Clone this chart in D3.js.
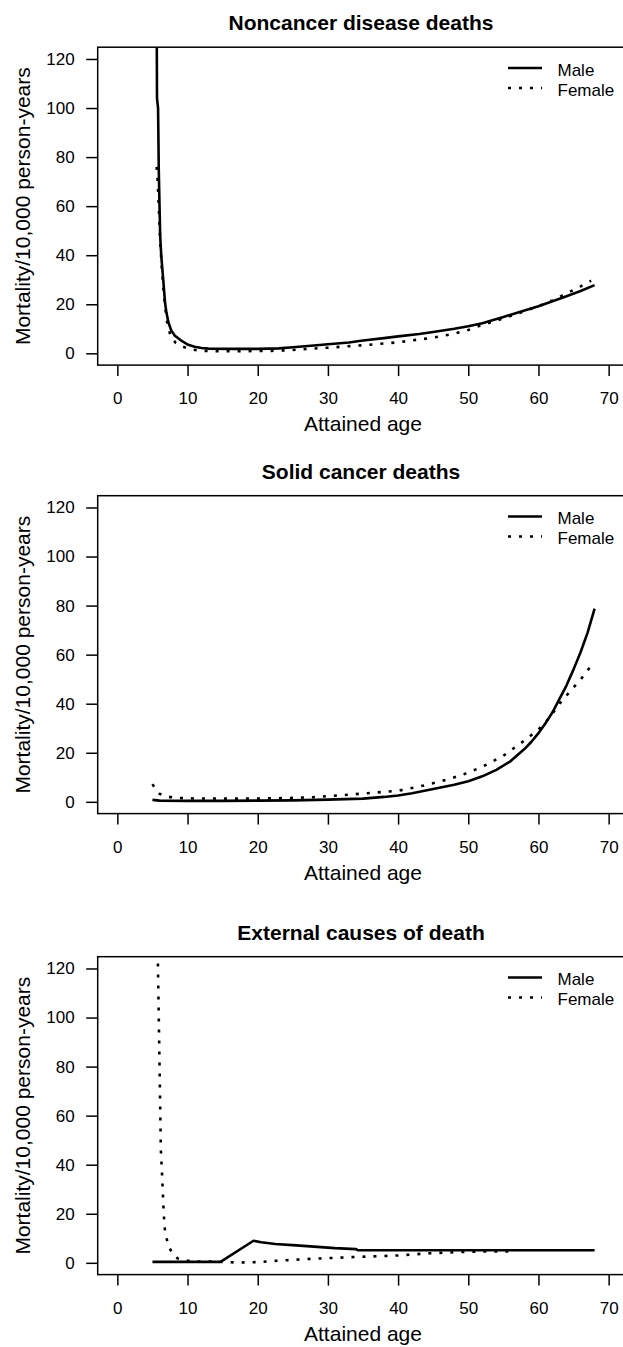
<!DOCTYPE html>
<html>
<head>
<meta charset="utf-8">
<script src="https://cdn.jsdelivr.net/npm/d3@7"></script>
<style>
body { margin: 0; background: #fff; }
svg text { font-family: "Liberation Sans", Arial, sans-serif; fill: #000; }
</style>
</head>
<body>
<svg width="623" height="1347"></svg>
<script>
var panelTitles = ['Noncancer disease deaths', 'Solid cancer deaths', 'External causes of death'];
var seriesNames = ['Male', 'Female'];
var xTicks = [0, 10, 20, 30, 40, 50, 60, 70];
var yTicks = [0, 20, 40, 60, 80, 100, 120];
var xLabel = 'Attained age';
var yLabel = 'Mortality/10,000 person-years';

// [attained age, mortality per 10,000 person-years]
var noncancerMale = [[5.6, 140], [5.65, 104], [5.8, 100], [5.9, 75], [6.1, 48], [6.25, 40], [6.45, 33],
    [6.65, 26], [6.8, 20.5], [7.0, 16.5], [7.3, 12.4], [7.7, 9.2], [8.2, 7.2], [9, 5.4], [10, 3.6],
    [11, 2.7], [12, 2.2], [13, 1.9], [16, 1.8], [20, 1.8], [23, 2.0], [25, 2.5], [28, 3.2], [30, 3.7],
    [33, 4.4], [35, 5.2], [38, 6.2], [40, 6.9], [43, 7.9], [45, 8.7], [48, 10.0], [50, 11.0],
    [52, 12.3], [55, 14.8], [58, 17.5], [60, 19.2], [62, 21.2], [64, 23.3], [66, 25.4], [68, 27.8]];
var noncancerFemale = [[5.6, 76], [5.75, 70], [5.9, 60], [6.1, 46], [6.35, 34], [6.6, 25], [6.85, 18],
    [7.1, 12.5], [7.6, 6.8], [8.3, 4.3], [9.3, 2.7], [10.5, 1.6], [12, 1.0], [14, 0.9], [18, 0.9],
    [22, 1.0], [24.6, 1.3], [27, 1.8], [30, 2.3], [35, 3.3], [40, 4.5], [45, 6.4], [48, 8.0],
    [50, 9.5], [52, 11.6], [55, 14.2], [58, 17.2], [60, 19.2], [62, 21.6], [64, 24.4], [66, 27.3],
    [67.5, 29.6]];

var solidMale = [[5, 0.8], [6, 0.5], [10, 0.4], [15, 0.4], [20, 0.5], [25, 0.6], [30, 0.9], [35, 1.3],
    [38, 2.0], [40, 2.6], [42, 3.5], [45, 5.2], [48, 7.0], [50, 8.4], [52, 10.4], [54, 13.0],
    [56, 16.5], [58, 21.5], [59, 24.5], [60, 28.0], [61, 32.0], [62, 36.5], [63, 42.0], [64, 47.5],
    [65, 54.0], [66, 61.0], [67, 69.0], [68, 78.8]];
var solidFemale = [[5, 7.2], [5.5, 5.0], [6, 3.3], [7, 2.2], [8, 1.7], [10, 1.4], [15, 1.3], [20, 1.3],
    [25, 1.6], [28, 1.9], [32, 2.7], [36, 3.6], [40, 4.5], [43, 6.2], [46, 8.3], [49, 10.8],
    [52, 14.3], [55, 18.8], [58, 25], [60, 29.5], [61.5, 34], [63, 40], [64.5, 45], [66, 49.8],
    [67.5, 55.5]];

var externalMale = [[5, 0.4], [14.7, 0.4], [19.4, 9.0], [20.5, 8.4], [22.5, 7.7], [25.5, 7.1],
    [28.5, 6.5], [31, 6.0], [34, 5.6], [34.3, 5.1], [50, 5.1], [68, 5.1]];
var externalFemale = [[5.78, 122], [6.2, 46], [6.36, 36.8], [6.6, 20.5], [6.8, 12.3], [7.3, 6.8],
    [7.9, 3.5], [8.6, 1.8], [9.3, 1.2], [10.5, 0.6], [15, 0.4], [17, 0.1], [20, 0.3], [23, 0.9],
    [27.5, 1.6], [31.5, 2.1], [36, 2.6], [40, 3.0], [44.5, 3.9], [48, 4.3], [51.5, 4.6], [56.5, 4.6]];

var panelSeries = [
    [noncancerMale, noncancerFemale],
    [solidMale, solidFemale],
    [externalMale, externalFemale]
];

// layout
var panelTop = [0, 448.5, 909.5];
var box = {left: 97.7, right: 628.3, top: 47.2, bottom: 365.1};
var dashes = [null, '3 8'];

var x = d3.scaleLinear().domain([-2.8, 72.8]).range([box.left, box.right]);
var y = d3.scaleLinear().domain([-4.8, 124.8]).range([box.bottom, box.top]);

var line = d3.line()
    .x(function(d) { return x(d[0]); })
    .y(function(d) { return y(d[1]); });

var svg = d3.select('svg');

svg.append('defs').append('clipPath')
    .attr('id', 'plotclip')
    .append('rect')
    .attr('x', box.left)
    .attr('y', box.top)
    .attr('width', box.right - box.left)
    .attr('height', box.bottom - box.top);

function drawPanel(i) {
    var g = svg.append('g').attr('transform', 'translate(0,' + panelTop[i] + ')');

    g.append('text')
        .attr('x', 361)
        .attr('y', 30)
        .attr('text-anchor', 'middle')
        .style('font-size', '21px')
        .style('font-weight', 'bold')
        .text(panelTitles[i]);

    // axes
    var xAxis = g.append('g')
        .attr('transform', 'translate(0,' + box.bottom + ')')
        .call(d3.axisBottom(x).tickValues(xTicks).tickSize(11).tickPadding(16));
    var yAxis = g.append('g')
        .attr('transform', 'translate(' + box.left + ',0)')
        .call(d3.axisLeft(y).tickValues(yTicks).tickSize(11.5).tickPadding(11.5));

    [xAxis, yAxis].forEach(function(a) {
        a.select('.domain').remove();
        a.attr('font-family', null).attr('font-size', null);
        a.selectAll('line').style('stroke', '#000').style('stroke-width', 1.5);
        a.selectAll('text').style('font-size', '17px');
    });

    g.append('rect')
        .attr('x', box.left)
        .attr('y', box.top)
        .attr('width', box.right - box.left)
        .attr('height', box.bottom - box.top)
        .style('fill', 'none')
        .style('stroke', '#000')
        .style('stroke-width', 1.5);

    g.append('text')
        .attr('x', (box.left + box.right) / 2)
        .attr('y', 431)
        .attr('text-anchor', 'middle')
        .style('font-size', '21px')
        .text(xLabel);

    g.append('text')
        .attr('transform', 'translate(30,' + (box.top + box.bottom) / 2 + ') rotate(-90)')
        .attr('text-anchor', 'middle')
        .style('font-size', '21px')
        .text(yLabel);

    // curves
    g.append('g')
        .attr('clip-path', 'url(#plotclip)')
        .selectAll('path')
        .data(panelSeries[i])
        .join('path')
        .attr('d', line)
        .style('fill', 'none')
        .style('stroke', '#000')
        .style('stroke-width', 2.6)
        .style('stroke-linejoin', 'round')
        .style('stroke-dasharray', function(d, j) { return dashes[j]; });

    // legend
    var leg = g.append('g')
        .selectAll('g')
        .data(seriesNames)
        .join('g')
        .attr('transform', function(d, j) { return 'translate(0,' + (68 + j * 20) + ')'; });

    leg.append('line')
        .attr('x1', 508)
        .attr('x2', 542)
        .style('stroke', '#000')
        .style('stroke-width', 2.6)
        .style('stroke-dasharray', function(d, j) { return dashes[j]; });

    leg.append('text')
        .attr('x', 557.5)
        .attr('y', 7.5)
        .style('font-size', '17px')
        .text(function(d) { return d; });
}

panelTitles.forEach(function(t, i) {
    drawPanel(i);
});
</script>
</body>
</html>
